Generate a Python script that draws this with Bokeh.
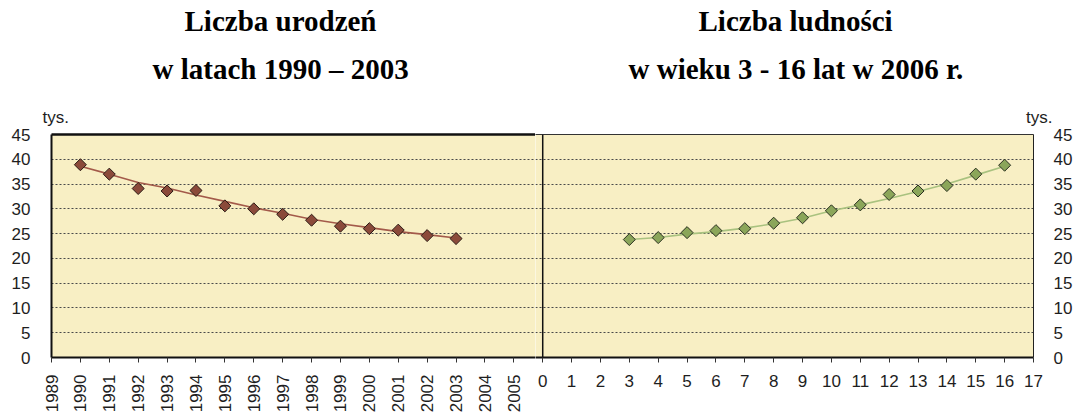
from math import pi
from bokeh.plotting import figure
from bokeh.layouts import row
from bokeh.models import Range1d, FixedTicker, LinearAxis, Span, Title
from bokeh.embed import file_html
from bokeh.resources import INLINE

# ---- data (thousands) ----
years = [1990, 1991, 1992, 1993, 1994, 1995, 1996, 1997, 1998, 1999, 2000, 2001, 2002, 2003]
births = [38.9, 37.0, 34.1, 33.6, 33.7, 30.6, 30.0, 28.9, 27.7, 26.5, 26.0, 25.7, 24.6, 24.0]
births_trend = [38.6, 37.0, 35.3, 34.2, 32.8, 31.5, 30.2, 29.1, 27.9, 27.0, 26.2, 25.4, 24.8, 24.1]

ages = [3, 4, 5, 6, 7, 8, 9, 10, 11, 12, 13, 14, 15, 16]
population = [23.8, 24.2, 25.2, 25.6, 26.0, 27.1, 28.2, 29.6, 30.8, 32.9, 33.6, 34.7, 37.0, 38.8]
population_trend = [23.8, 24.2, 24.9, 25.4, 26.1, 27.0, 28.1, 29.6, 30.8, 32.1, 33.5, 35.0, 36.8, 38.6]

year_ticks = list(range(1989, 2006))
age_ticks = list(range(0, 18))
y_ticks = list(range(0, 50, 5))

left_title = ["Liczba urodzeń", "w latach 1990 – 2003"]
right_title = ["Liczba ludności", "w wieku 3 - 16 lat w 2006 r."]
unit_label = "tys."

# ---- styles ----
BG = "#f8efc4"
TICK_FONT = "Liberation Sans"
TICK_SIZE = "17px"
TXT = "#1e1e1e"
TITLE_FONT = "Liberation Serif"
TITLE_SIZE = "29px"

H = 419
TOP = 134
BOTTOM = 62


def style_common(p):
    p.background_fill_color = BG
    p.border_fill_color = "white"
    p.outline_line_color = None
    p.xgrid.grid_line_color = None
    p.ygrid.ticker = FixedTicker(ticks=y_ticks)
    p.ygrid.grid_line_color = "#4a4a4a"
    p.ygrid.grid_line_dash = "2 2"
    p.ygrid.grid_line_width = 1
    for ax in p.xaxis:
        ax.minor_tick_line_color = None
        ax.major_tick_out = 5
        ax.major_tick_in = 0
        ax.major_tick_line_color = "#333333"
        ax.major_tick_line_width = 1
        ax.axis_line_color = "#111111"
        ax.axis_line_width = 2
        ax.major_label_text_font = TICK_FONT
        ax.major_label_text_font_size = TICK_SIZE
        ax.major_label_text_color = TXT
    for ax in p.yaxis:
        ax.ticker = FixedTicker(ticks=y_ticks)
        ax.minor_tick_line_color = None
        ax.major_tick_out = 0
        ax.major_tick_in = 0
        ax.major_label_text_font = TICK_FONT
        ax.major_label_text_font_size = TICK_SIZE
        ax.major_label_text_color = TXT


def add_titles(p, lines, offsets, unit_align, unit_offset):
    top = LinearAxis(ticker=FixedTicker(ticks=[]), major_tick_line_color=None,
                     minor_tick_line_color=None, major_label_text_font_size="0px",
                     major_label_standoff=0, major_tick_out=0, major_tick_in=0)
    p.add_layout(top, "above")
    p.add_layout(Title(text=unit_label, align=unit_align, offset=unit_offset, standoff=15,
                       text_font=TICK_FONT, text_font_size=TICK_SIZE, text_font_style="normal",
                       text_color=TXT), "above")
    p.add_layout(Title(text=lines[1], align="left", offset=offsets[1], standoff=27,
                       text_font=TITLE_FONT, text_font_size=TITLE_SIZE, text_font_style="bold",
                       text_color="black"), "above")
    p.add_layout(Title(text=lines[0], align="left", offset=offsets[0], standoff=2,
                       text_font=TITLE_FONT, text_font_size=TITLE_SIZE, text_font_style="bold",
                       text_color="black"), "above")
    return top


# ---------- left panel ----------
p1 = figure(width=535, height=H, x_range=Range1d(1989, 2005.75), y_range=Range1d(0, 45),
            output_backend="svg", toolbar_location=None,
            min_border_left=51, min_border_right=0, min_border_top=TOP, min_border_bottom=BOTTOM)
style_common(p1)
p1.xaxis.ticker = FixedTicker(ticks=year_ticks)
p1.xaxis.major_label_orientation = pi / 2
p1.xaxis.major_label_standoff = 12
p1.yaxis.axis_line_color = "#111111"
p1.yaxis.axis_line_width = 2
p1.yaxis.major_label_standoff = 21
top1 = add_titles(p1, left_title, [133, 101], "left", -9)
top1.axis_line_color = "#111111"
top1.axis_line_width = 2.5

p1.line(years, births_trend, line_color="#a35a4a", line_width=1.6)
p1.scatter(years, births, marker="square", angle=pi / 4, size=8.5,
           fill_color="#8b4a3a", line_color="#2b1a14", line_width=1)

# ---------- right panel ----------
p2 = figure(width=540, height=H, x_range=Range1d(-0.25, 17), y_range=Range1d(0, 45),
            y_axis_location="right",
            output_backend="svg", toolbar_location=None,
            min_border_left=0, min_border_right=42, min_border_top=TOP, min_border_bottom=BOTTOM)
style_common(p2)
p2.xaxis.ticker = FixedTicker(ticks=age_ticks)
p2.xaxis.major_label_standoff = 12
p2.yaxis.axis_line_color = "#222222"
p2.yaxis.axis_line_width = 1
p2.yaxis.major_label_standoff = 20
top2 = add_titles(p2, right_title, [163, 93], "right", -19)
top2.axis_line_color = "#333333"
top2.axis_line_width = 1.2

p2.add_layout(Span(location=0, dimension="height", line_color="#111111", line_width=1.5))

p2.line(ages, population_trend, line_color="#a9c27f", line_width=1.6)
p2.scatter(ages, population, marker="square", angle=pi / 4, size=8.5,
           fill_color="#8ba65a", line_color="#2a3020", line_width=1)

layout = row(p1, p2, spacing=0)
open("out.html", "w").write(file_html(layout, INLINE))
